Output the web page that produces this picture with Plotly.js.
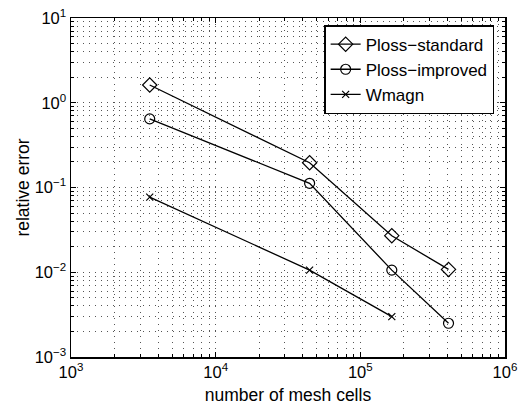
<!DOCTYPE html>
<html>
<head>
<meta charset="utf-8">
<script src="https://cdn.plot.ly/plotly-3.0.1.min.js"></script>
<style>html,body{margin:0;padding:0;background:#fff;}#chart{width:524px;height:405px;}</style>
</head>
<body>
<div id="chart"></div>
<script>
// Data
var meshCells = [3500, 44600, 165000, 407000];
var meshCellsW = [3500, 44600, 165000];
var plossStandard = [1.62, 0.196, 0.027, 0.0108];
var plossImproved = [0.645, 0.112, 0.0106, 0.0025];
var wmagn = [0.077, 0.0106, 0.0030];
var seriesNames = ["Ploss\u2212standard", "Ploss\u2212improved", "Wmagn"];

var xMajor = [1e3, 1e4, 1e5, 1e6];
var xMajorText = ["10<sup>3</sup>", "10<sup>4</sup>", "10<sup>5</sup>", "10<sup>6</sup>"];
var yMajor = [1e-3, 1e-2, 1e-1, 1e0, 1e1];
var yMajorText = ["10<sup>\u22123</sup>", "10<sup>\u22122</sup>", "10<sup>\u22121</sup>", "10<sup>0</sup>", "10<sup>1</sup>"];

function minorVals(lo, hi) {
  var out = [];
  for (var e = lo; e < hi; e++) {
    for (var m = 2; m <= 9; m++) out.push(m * Math.pow(10, e));
  }
  return out;
}

var lineStyle = {color: 'black', width: 1.3};
var traces = [
  {x: meshCells, y: plossStandard, name: seriesNames[0], type: 'scatter', mode: 'lines+markers',
   line: lineStyle, marker: {symbol: 'diamond-open', size: 11, color: 'black', line: {width: 1.2, color: 'black'}}},
  {x: meshCells, y: plossImproved, name: seriesNames[1], type: 'scatter', mode: 'lines+markers',
   line: lineStyle, marker: {symbol: 'circle-open', size: 10, color: 'black', line: {width: 1.2, color: 'black'}}},
  {x: meshCellsW, y: wmagn, name: seriesNames[2], type: 'scatter', mode: 'lines+markers',
   line: lineStyle, marker: {symbol: 'x-thin-open', size: 7, color: 'black', line: {width: 1.2, color: 'black'}}}
];

var gridDash = '1px,5px';
var gridColor = '#555';
var axisCommon = {
  type: 'log',
  showline: true, linecolor: 'black', linewidth: 1.5, mirror: 'allticks',
  ticks: 'inside', ticklen: 5, tickcolor: 'black', tickwidth: 1,
  showgrid: true, gridcolor: gridColor, griddash: gridDash, gridwidth: 1,
  zeroline: false,
  tickfont: {family: 'Liberation Sans, Arial, sans-serif', size: 16.5, color: 'black'}
};

var layout = {
  width: 524, height: 405,
  margin: {l: 71, r: 19, t: 18, b: 48},
  paper_bgcolor: 'white', plot_bgcolor: 'white',
  font: {family: 'Liberation Sans, Arial, sans-serif', color: 'black'},
  showlegend: true,
  legend: {x: 0.975, xanchor: 'right', y: 0.979, yanchor: 'top',
           bgcolor: 'white', bordercolor: 'black', borderwidth: 1.5,
           font: {size: 17, color: 'black'}, tracegroupgap: 0},
  xaxis: Object.assign({}, axisCommon, {
    range: [3, 6], tickmode: 'array', tickvals: xMajor, ticktext: xMajorText,
    title: {text: 'number of mesh cells', font: {size: 17.5, color: 'black'}, standoff: 10},
    minor: {tickmode: 'array', tickvals: minorVals(3, 6), ticks: 'inside', ticklen: 3,
            tickcolor: 'black', showgrid: true, gridcolor: gridColor, griddash: gridDash, gridwidth: 1}
  }),
  yaxis: Object.assign({}, axisCommon, {
    range: [-3, 1], tickmode: 'array', tickvals: yMajor, ticktext: yMajorText,
    title: {text: 'relative error', font: {size: 17.5, color: 'black'}, standoff: 0},
    minor: {tickmode: 'array', tickvals: minorVals(-3, 1), ticks: 'inside', ticklen: 3,
            tickcolor: 'black', showgrid: true, gridcolor: gridColor, griddash: gridDash, gridwidth: 1}
  })
};

Plotly.newPlot('chart', traces, layout, {displayModeBar: false, staticPlot: true});
</script>
</body>
</html>
